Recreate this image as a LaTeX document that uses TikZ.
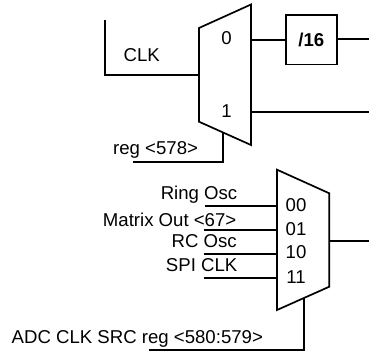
\documentclass[tikz,border=0pt]{standalone}
\usepackage{fontspec}
\setmainfont{Liberation Sans}
\begin{document}
\begin{tikzpicture}[x=1pt,y=-1pt,
  wire/.style={line width=1.7pt,line cap=butt,line join=miter},
  lab/.style={inner sep=0pt,font=\fontsize{18.6}{20}\selectfont},
  rlab/.style={lab,anchor=base east},
  clab/.style={lab,anchor=base}]
\useasboundingbox (0,0) rectangle (369,353);
% top mux
\coordinate (m1tl) at (199,28);
\coordinate (m1bl) at (199,121.7);
\coordinate (m1tr) at (251,4.5);
\coordinate (m1br) at (251,145);
\draw[wire] (m1tl) -- (m1tr) -- (m1br) -- (m1bl) -- cycle;
\node[wire,draw,outer sep=0pt,minimum width=51pt,minimum height=49.7pt,inner sep=0pt,anchor=north west,font=\bfseries\fontsize{18.6}{20}\selectfont] (div) at (285.8,14.8) {/16};
\coordinate (clkt) at (105,20);
\coordinate (clkc) at (105,75);
\coordinate (clke) at (199,75);
\draw[wire] (clkt) -- (clkc) -- (clke);
\coordinate (m1o0) at (251,39.7);
\draw[wire] (m1o0) -- (m1o0 -| div.west);
\coordinate (o0e) at (369,38.7);
\draw[wire] (div.east |- o0e) -- (o0e);
\coordinate (m1o1) at (251,111.7);
\coordinate (o1e) at (369,111.7);
\draw[wire] (m1o1) -- (o1e);
\coordinate (s1a) at (223,132.7);
\coordinate (s1b) at (223,161.7);
\coordinate (s1c) at (133,161.7);
\draw[wire] (s1a) -- (s1b) -- (s1c);
\node[clab] (l0) at (226.5,44.5) {0};
\node[clab] (l1) at (226.5,117) {1};
\node[lab,anchor=base west] (lclk) at (123.5,62) {CLK};
\node[lab,anchor=base west] (lreg) at (113,154) {reg <578>};
% bottom mux
\coordinate (m2tl) at (277,169.7);
\coordinate (m2bl) at (277,310);
\coordinate (m2tr) at (329.3,193.3);
\coordinate (m2br) at (329.3,286.7);
\draw[wire] (m2tl) -- (m2tr) -- (m2br) -- (m2bl) -- cycle;
\foreach \n/\xa/\yy in {a/205/206,b/204/229.7,c/204/253.7,d/204/278}{
  \coordinate (i\n s) at (\xa,\yy);
  \coordinate (i\n e) at (277,\yy);
  \draw[wire] (i\n s) -- (i\n e);
}
\coordinate (m2o) at (329.3,241);
\coordinate (m2oe) at (369,241);
\draw[wire] (m2o) -- (m2oe);
\coordinate (s2a) at (304,297.7);
\coordinate (s2b) at (304,350.3);
\coordinate (s2c) at (149,350.3);
\draw[wire] (s2a) -- (s2b) -- (s2c);
\node[rlab] (t1) at (237.5,199.5) {Ring Osc};
\node[rlab] (t2) at (236.5,226) {Matrix Out <67>};
\node[rlab] (t3) at (237,247.5) {RC Osc};
\node[rlab] (t4) at (237.5,271) {SPI CLK};
\node[clab] (n0) at (296,211) {00};
\node[clab] (n1) at (296,235) {01};
\node[clab] (n2) at (296,258.5) {10};
\node[clab] (n3) at (296,283) {11};
\node[lab,anchor=base west] (tadc) at (11.5,343) {ADC CLK SRC reg <580:579>};
\end{tikzpicture}
\end{document}
